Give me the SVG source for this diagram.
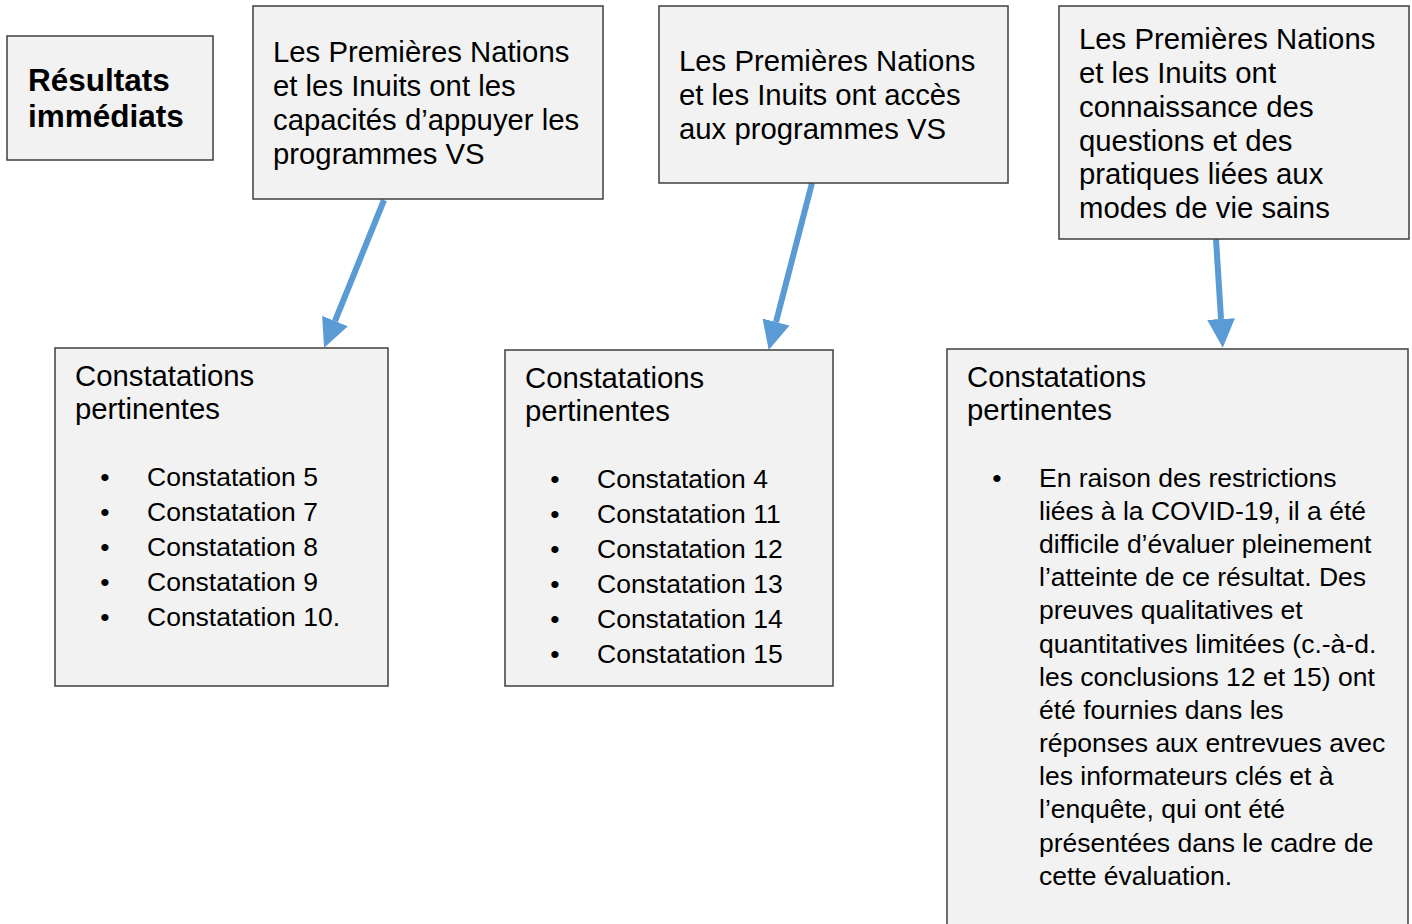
<svg xmlns="http://www.w3.org/2000/svg" width="1412" height="924" viewBox="0 0 1412 924">
<style>
.box{fill:#F2F2F2;stroke:#3F3F3F;stroke-width:1.5}
.t{font-family:"Liberation Sans",Arial,sans-serif;fill:#000}
.big{font-size:29.3px}
.sm{font-size:26.5px}
.bold{font-size:31.5px;font-weight:bold}
.conn{stroke:#5B9BD5;stroke-width:6;fill:none}
</style>
<defs>
<marker id="ah" markerUnits="userSpaceOnUse" markerWidth="30" markerHeight="30" refX="0" refY="13" orient="auto" viewBox="0 0 28 26">
<path d="M0,0 L27,13 L0,26 Z" fill="#5B9BD5"/>
</marker>
</defs>
<rect width="1412" height="924" fill="#fff"/>
<g id="connectors">
<line class="conn" x1="384" y1="200" x2="335" y2="321" marker-end="url(#ah)"/>
<line class="conn" x1="812" y1="183" x2="776" y2="322" marker-end="url(#ah)"/>
<line class="conn" x1="1216" y1="239" x2="1221" y2="319" marker-end="url(#ah)"/>
</g>
<g id="resultats">
<rect class="box" x="7" y="36" width="206" height="124"/>
<text class="t bold" x="28" y="91">Résultats</text>
<text class="t bold" x="28" y="127">immédiats</text>
</g>
<g id="capacites">
<rect class="box" x="253" y="6" width="350" height="193"/>
<text class="t big" x="273"><tspan x="273" y="62">Les Premières Nations</tspan><tspan x="273" y="96">et les Inuits ont les</tspan><tspan x="273" y="130">capacités d’appuyer les</tspan><tspan x="273" y="164">programmes VS</tspan></text>
</g>
<g id="acces">
<rect class="box" x="659" y="6" width="349" height="177"/>
<text class="t big"><tspan x="679" y="71">Les Premières Nations</tspan><tspan x="679" y="105">et les Inuits ont accès</tspan><tspan x="679" y="139">aux programmes VS</tspan></text>
</g>
<g id="connaissance">
<rect class="box" x="1059" y="6" width="350" height="233"/>
<text class="t big"><tspan x="1079" y="49">Les Premières Nations</tspan><tspan x="1079" y="83">et les Inuits ont</tspan><tspan x="1079" y="117">connaissance des</tspan><tspan x="1079" y="151">questions et des</tspan><tspan x="1079" y="184">pratiques liées aux</tspan><tspan x="1079" y="218">modes de vie sains</tspan></text>
</g>
<g id="constat1">
<rect class="box" x="55" y="348" width="333" height="338"/>
<text class="t big"><tspan x="75" y="386">Constatations</tspan><tspan x="75" y="419">pertinentes</tspan></text>
<text class="t sm" text-anchor="middle"><tspan x="105" y="486">•</tspan><tspan x="105" y="521">•</tspan><tspan x="105" y="556">•</tspan><tspan x="105" y="591">•</tspan><tspan x="105" y="626">•</tspan></text>
<text class="t sm"><tspan x="147" y="486">Constatation 5</tspan><tspan x="147" y="521">Constatation 7</tspan><tspan x="147" y="556">Constatation 8</tspan><tspan x="147" y="591">Constatation 9</tspan><tspan x="147" y="626">Constatation 10.</tspan></text>
</g>
<g id="constat2">
<rect class="box" x="505" y="350" width="328" height="336"/>
<text class="t big"><tspan x="525" y="388">Constatations</tspan><tspan x="525" y="421">pertinentes</tspan></text>
<text class="t sm" text-anchor="middle"><tspan x="555" y="488">•</tspan><tspan x="555" y="523">•</tspan><tspan x="555" y="558">•</tspan><tspan x="555" y="593">•</tspan><tspan x="555" y="628">•</tspan><tspan x="555" y="663">•</tspan></text>
<text class="t sm"><tspan x="597" y="488">Constatation 4</tspan><tspan x="597" y="523">Constatation 11</tspan><tspan x="597" y="558">Constatation 12</tspan><tspan x="597" y="593">Constatation 13</tspan><tspan x="597" y="628">Constatation 14</tspan><tspan x="597" y="663">Constatation 15</tspan></text>
</g>
<g id="constat3">
<rect class="box" x="947" y="349" width="461" height="590"/>
<text class="t big"><tspan x="967" y="387">Constatations</tspan><tspan x="967" y="420">pertinentes</tspan></text>
<text class="t sm" text-anchor="middle" x="997" y="487">•</text>
<text class="t sm"><tspan x="1039" y="487">En raison des restrictions</tspan><tspan x="1039" y="520">liées à la COVID-19, il a été</tspan><tspan x="1039" y="553">difficile d’évaluer pleinement</tspan><tspan x="1039" y="586">l’atteinte de ce résultat. Des</tspan><tspan x="1039" y="619">preuves qualitatives et</tspan><tspan x="1039" y="653">quantitatives limitées (c.-à-d.</tspan><tspan x="1039" y="686">les conclusions 12 et 15) ont</tspan><tspan x="1039" y="719">été fournies dans les</tspan><tspan x="1039" y="752">réponses aux entrevues avec</tspan><tspan x="1039" y="785">les informateurs clés et à</tspan><tspan x="1039" y="818">l’enquête, qui ont été</tspan><tspan x="1039" y="852">présentées dans le cadre de</tspan><tspan x="1039" y="885">cette évaluation.</tspan></text>
</g>
</svg>
